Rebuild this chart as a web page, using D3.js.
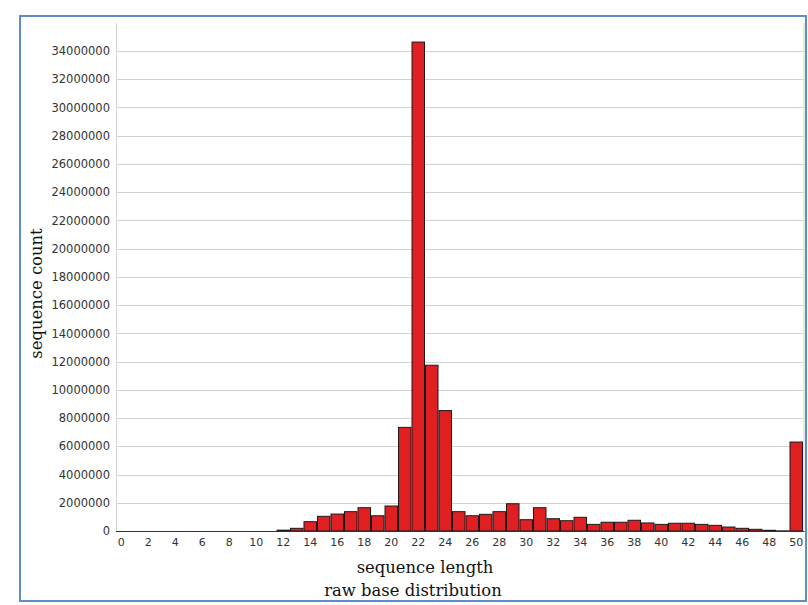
<!DOCTYPE html>
<html>
<head>
<meta charset="utf-8">
<script src="https://cdn.jsdelivr.net/npm/d3@7"></script>
<style>
  html, body { margin: 0; padding: 0; background: #fff; }
  svg { display: block; }
</style>
</head>
<body>
<svg id="chart" width="808" height="605"></svg>
<script>
// ---- data ----
const lengths = d3.range(0, 51);
const counts = [
  0, 0, 0, 0, 0, 0, 0, 0, 0, 0,
  0, 0, 60000, 190000, 660000, 1040000, 1200000, 1370000, 1650000, 1080000,
  1770000, 7340000, 34630000, 11740000, 8530000, 1370000, 1080000, 1180000, 1370000, 1930000,
  800000, 1650000, 870000, 730000, 970000, 470000, 620000, 620000, 760000, 570000,
  470000, 550000, 550000, 470000, 400000, 280000, 190000, 120000, 50000, 10000,
  6300000
];
const xTickLabels = d3.range(0, 51, 2);
const yTickValues = d3.range(0, 34000001, 2000000);
const xTitle = "sequence length";
const subTitle = "raw base distribution";
const yTitle = "sequence count";

// ---- layout ----
const svg = d3.select("#chart");
const plot = { left: 116, right: 803.5, top: 23, bottom: 531 };

const x = d3.scaleBand().domain(lengths).range([114.5, 803]).paddingInner(0).paddingOuter(0);
const y = d3.scaleLinear().domain([0, 35980000]).range([plot.bottom, plot.top]);

// frame
svg.append("rect")
  .attr("x", 20).attr("y", 16).attr("width", 786).attr("height", 585)
  .attr("fill", "none").attr("stroke", "#5f8dc9").attr("stroke-width", 2);

// gridlines
svg.append("g").selectAll("line").data(yTickValues.filter(v => v > 0)).join("line")
  .attr("x1", plot.left).attr("x2", plot.right)
  .attr("y1", d => Math.round(y(d)) + 0.5).attr("y2", d => Math.round(y(d)) + 0.5)
  .attr("stroke", "#d2d2d2").attr("stroke-width", 1);

// plot side borders
svg.append("line").attr("x1", plot.left + 0.5).attr("x2", plot.left + 0.5)
  .attr("y1", plot.top).attr("y2", plot.bottom).attr("stroke", "#d2d2d2");
svg.append("line").attr("x1", plot.right + 0.5).attr("x2", plot.right + 0.5)
  .attr("y1", plot.top).attr("y2", plot.bottom).attr("stroke", "#d2d2d2");

// bars
svg.append("g").selectAll("rect").data(lengths).join("rect")
  .attr("x", d => x(d) + 0.5)
  .attr("width", x.bandwidth() - 1)
  .attr("y", (d, i) => y(counts[i]))
  .attr("height", (d, i) => y(0) - y(counts[i]))
  .attr("fill", "#e01f22")
  .attr("stroke", "#1a1a1a")
  .attr("stroke-width", 1);

// x axis line
svg.append("line").attr("x1", plot.left).attr("x2", plot.right + 1)
  .attr("y1", plot.bottom + 0.5).attr("y2", plot.bottom + 0.5)
  .attr("stroke", "#333").attr("stroke-width", 1);

// x axis
const xAxis = d3.axisBottom(x).tickValues(xTickLabels).tickSize(0).tickPadding(7);
const gx = svg.append("g").attr("transform", `translate(0,${plot.bottom})`).call(xAxis);
gx.select(".domain").remove();
gx.selectAll("text").attr("font-family", "DejaVu Sans").attr("font-size", 11).attr("fill", "#333");

// y axis
const yAxis = d3.axisLeft(y).tickValues(yTickValues).tickSize(0).tickPadding(6).tickFormat(d3.format("d"));
const gy = svg.append("g").attr("transform", `translate(${plot.left},0)`).call(yAxis);
gy.select(".domain").remove();
gy.selectAll("text").attr("font-family", "DejaVu Sans").attr("font-size", 11.5).attr("fill", "#333");

// titles
svg.append("text").attr("x", 425).attr("y", 573).attr("text-anchor", "middle")
  .attr("font-family", "DejaVu Serif").attr("font-size", 16.4).attr("fill", "#111").text(xTitle);
svg.append("text").attr("x", 413).attr("y", 596).attr("text-anchor", "middle")
  .attr("font-family", "DejaVu Serif").attr("font-size", 16.4).attr("fill", "#111").text(subTitle);
svg.append("text").attr("transform", "translate(42,293.5) rotate(-90)").attr("text-anchor", "middle")
  .attr("font-family", "DejaVu Serif").attr("font-size", 16.4).attr("fill", "#111").text(yTitle);
</script>
</body>
</html>
